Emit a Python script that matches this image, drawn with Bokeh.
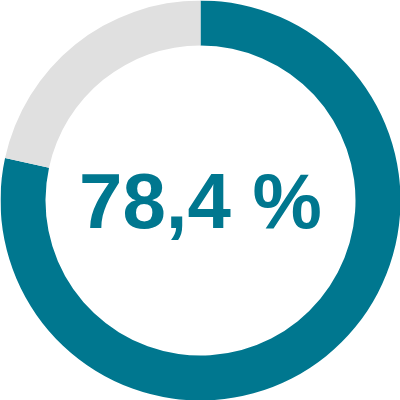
import numpy as np
from bokeh.plotting import figure
from bokeh.models import Range1d
from bokeh.core.properties import value
from bokeh.embed import file_html
from bokeh.resources import INLINE

categories = ["Anteil", "Rest"]
values = [78.4, 21.6]
colors = ["#00778f", "#e0e0e0"]
label = "78,4 %"

fracs = np.array(values) / sum(values)
cum = np.concatenate([[0], np.cumsum(fracs)])
start = np.pi / 2 - 2 * np.pi * cum[:-1]
end = np.pi / 2 - 2 * np.pi * cum[1:]

p = figure(width=400, height=400, output_backend="svg", toolbar_location=None,
           x_range=Range1d(-200, 200), y_range=Range1d(-200, 200),
           min_border=0)
p.axis.visible = False
p.grid.visible = False
p.outline_line_color = None
p.background_fill_color = "white"
p.border_fill_color = "white"

p.annular_wedge(x=0, y=0, inner_radius=155, outer_radius=200,
                start_angle=start, end_angle=end, direction="clock",
                fill_color=colors, line_color=None)

p.text(x=[0], y=[0], text=[label], text_align="center", text_baseline="alphabetic",
       text_font=value("Liberation Sans"), text_font_style="bold",
       text_font_size="78px", text_color="#00778f")

open("out.html", "w").write(file_html(p, INLINE))
